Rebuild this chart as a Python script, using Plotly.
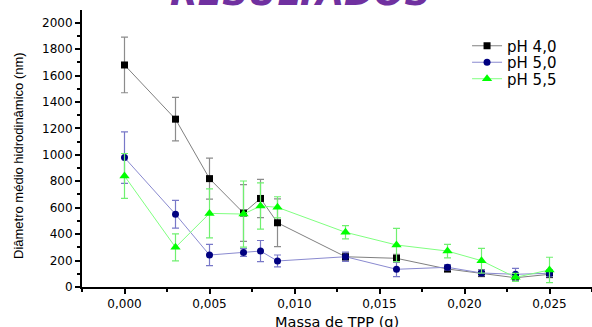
import plotly.graph_objects as go

x_tpp = [0.000, 0.003, 0.005, 0.007, 0.008, 0.009, 0.013, 0.016, 0.019, 0.021, 0.023, 0.025]

ph40 = [1680, 1270, 820, 560, 670, 486, 229, 217, 136, 104, 70, 96]
ph40_err = [210, 165, 155, 215, 145, 181, 30, 30, 20, 25, 20, 25]

ph50 = [979, 550, 242, 261, 272, 197, 229, 134, 149, 106, 96, 104]
ph50_err = [195, 105, 80, 30, 80, 45, 35, 56, 20, 20, 45, 25]

ph55 = [840, 300, 557, 552, 613, 603, 414, 318, 272, 199, 73, 129]
ph55_err = [170, 102, 185, 250, 175, 80, 50, 126, 51, 94, 30, 96]

names = ["pH 4,0", "pH 5,0", "pH 5,5"]

y_ticks = list(range(0, 2001, 200))
x_ticks = [0.000, 0.005, 0.010, 0.015, 0.020, 0.025]
x_ticklabels = ["0,000", "0,005", "0,010", "0,015", "0,020", "0,025"]

WIDE = "DejaVu Sans"
ARIAL = "Liberation Sans"

fig = go.Figure()

styles = [
    (ph40, ph40_err, "#000000", "#808080", "#8c8c8c", "square", 7, "legend"),
    (ph50, ph50_err, "#000080", "#8a8ad0", "#7878c8", "circle", 7, "legend2"),
    (ph55, ph55_err, "#00ff00", "#80ff80", "#70f070", "triangle-up", 9, "legend3"),
]
for name, (vals, errs, mcol, lcol, ecol, sym, msz, leg) in zip(names, styles):
    fig.add_trace(go.Scatter(
        x=x_tpp, y=vals, name=name, mode="lines+markers", legend=leg,
        line=dict(color=lcol, width=1),
        marker=dict(symbol=sym, size=msz, color=mcol, line=dict(width=0)),
        error_y=dict(type="data", array=errs, visible=True,
                     color=ecol, thickness=1.2, width=3.5),
    ))

fig.add_annotation(
    text="<b><i>RESULTADOS</i></b>", xref="paper", yref="paper",
    x=0.4294, y=0.982, xanchor="center", yanchor="bottom",
    showarrow=False, font=dict(family=WIDE, size=36, color="#7030a0"),
)
fig.add_annotation(
    text="Massa de TPP (g)", xref="paper", yref="paper",
    x=0.5, y=-0.125, xanchor="center", yanchor="middle",
    showarrow=False, font=dict(family=WIDE, size=14.5, color="black"),
)
fig.add_annotation(
    text="Diâmetro médio hidrodinâmico (nm)", xref="paper", yref="paper",
    x=-0.1255, y=0.4765, xanchor="center", yanchor="middle", textangle=-90,
    showarrow=False, font=dict(family=ARIAL, size=13, color="black"),
)

leg_common = dict(x=0.755, xanchor="left", yanchor="middle",
                  bgcolor="rgba(0,0,0,0)", font=dict(family=WIDE, size=15))
fig.update_layout(
    width=592, height=327,
    margin=dict(l=82, r=0, t=10, b=40),
    paper_bgcolor="white", plot_bgcolor="white",
    font=dict(family=WIDE, size=12, color="black"),
    legend=dict(y=0.870, **leg_common),
    legend2=dict(y=0.8105, **leg_common),
    legend3=dict(y=0.751, **leg_common),
    showlegend=True,
)

fig.update_xaxes(
    range=[-0.0025, 0.0275], tickvals=x_ticks, ticktext=x_ticklabels,
    automargin=False,
    showgrid=False, zeroline=False, showline=True, linecolor="black", linewidth=2,
    ticks="outside", ticklen=5, tickwidth=1.5, tickcolor="black",
    minor=dict(ticks="outside", ticklen=3, tickwidth=1.5, dtick=0.0025, tick0=0, tickcolor="black"),
    tickfont=dict(size=12),
)
fig.update_yaxes(
    range=[0, 2096], tickvals=y_ticks,
    automargin=False,
    showgrid=False, zeroline=False, showline=True, linecolor="black", linewidth=2,
    ticks="outside", ticklen=5, tickwidth=1.5, tickcolor="black",
    minor=dict(ticks="outside", ticklen=3, tickwidth=1.5, dtick=100, tick0=0, tickcolor="black"),
    tickfont=dict(size=12),
)

fig.write_html("out.html", config={"displayModeBar": False},
               post_script="document.body.style.margin='0';")
